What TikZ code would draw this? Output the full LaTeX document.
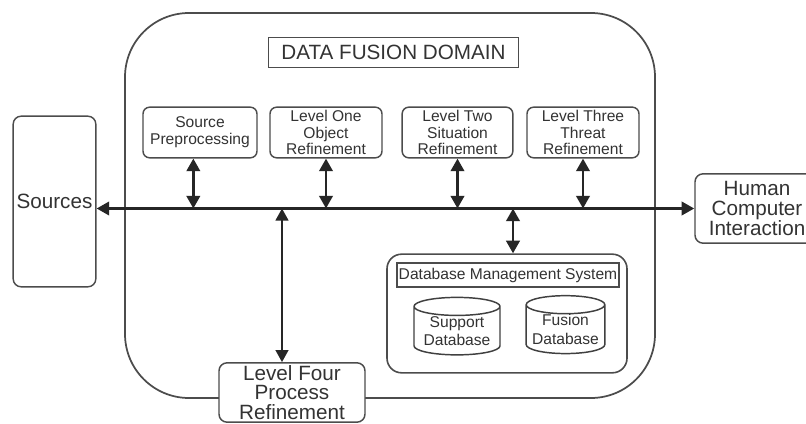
\documentclass[tikz,border=0pt]{standalone}
\usepackage{fontspec}
\setmainfont{Liberation Sans}
\usetikzlibrary{arrows.meta,shapes.geometric}

\begin{document}
\begin{tikzpicture}[x=0.75pt,y=-0.75pt]
\tikzset{box/.style = {shape=rectangle,rounded corners=5pt,draw=black!70,line width=1.1pt,fill=white,align=center,text=black!80,inner sep=0pt}}
\tikzset{smalltxt/.style = {font=\fontsize{11.7}{12.5}\selectfont}}
\tikzset{bigtxt/.style = {font=\fontsize{15.5}{15.2}\selectfont}}
\tikzset{dbase/.style = {shape=cylinder,shape border rotate=90,aspect=0.27,draw=black!75,line width=1.1pt,fill=white,align=center,text=black!80,inner sep=0pt,font=\fontsize{11.7}{14}\selectfont}}
\tikzset{link/.style = {line width=2.2pt,draw=black!85,{Triangle[length=9.5pt,width=10pt]}-{Triangle[length=9.5pt,width=10pt]}}}
\tikzset{thinlink/.style = {line width=1.6pt,draw=black!85,{Triangle[length=9pt,width=9.5pt]}-{Triangle[length=9pt,width=9.5pt]}}}

\useasboundingbox (0,0) rectangle (806,424);

% domain and its title
\node[box,rounded corners=48pt,line width=1.3pt,minimum width=397.5pt,minimum height=288.75pt] (domain) at (390,205.5) {};
\node[draw=black!70,line width=0.8pt,minimum width=188pt,minimum height=22pt,text=black!80,font=\fontsize{15.5}{16}\selectfont] (title) at (393.5,52.5) {DATA FUSION DOMAIN};

% outside boxes
\node[box,rounded corners=6pt,minimum width=62pt,minimum height=128pt,bigtxt] (srcs) at (54.5,201.5) {Sources};
\node[box,rounded corners=6pt,minimum width=93pt,minimum height=52pt,bigtxt] (hci) at (757,208.5) {Human\\Computer\\Interaction};
\node[box,rounded corners=6pt,minimum width=109.5pt,minimum height=44.5pt,font=\fontsize{15.5}{14.8}\selectfont] (lfour) at (292,392.5) {Level Four\\Process\\Refinement};

% refinement levels
\node[box,minimum width=85.5pt,minimum height=38pt,smalltxt] (pre) at (200,132.5) {Source\\Preprocessing};
\node[box,minimum width=84pt,minimum height=38pt,smalltxt] (lone) at (326,132.5) {Level One\\Object\\Refinement};
\node[box,minimum width=83pt,minimum height=38pt,smalltxt] (ltwo) at (457.5,132.5) {Level Two\\Situation\\Refinement};
\node[box,minimum width=84pt,minimum height=38pt,smalltxt] (lthree) at (583,132.5) {Level Three\\Threat\\Refinement};

% database management
\node[box,rounded corners=11pt,line width=1.2pt,minimum width=180pt,minimum height=89pt] (dbms) at (507,313.5) {};
\node[draw=black!70,line width=0.8pt,minimum width=166.5pt,minimum height=18pt,text=black!80,inner sep=0pt,font=\fontsize{11.7}{12}\selectfont] (dbtitle) at (508,275) {Database Management System};
\node[dbase,minimum width=64.5pt,minimum height=43pt] (supp) at (457,331) {Support\\Database};
\node[dbase,minimum width=59pt,minimum height=42pt] (fus) at (565.5,329.5) {Fusion\\Database};

% connectors
\draw[link] (srcs.east |- hci.west) -- (hci.west);
\draw[link] ([xshift=-5pt]pre.south) -- ([xshift=-5pt]pre.south |- hci.west);
\draw[link] (lone.south) -- (lone.south |- hci.west);
\draw[link] (ltwo.south) -- (ltwo.south |- hci.west);
\draw[link] (lthree.south) -- (lthree.south |- hci.west);
\draw[link] ([xshift=4.5pt]dbms.north |- hci.west) -- ([xshift=4.5pt]dbms.north);
\draw[thinlink] ([xshift=-7.5pt]lfour.north |- hci.west) -- ([xshift=-7.5pt]lfour.north);

\end{tikzpicture}
\end{document}
